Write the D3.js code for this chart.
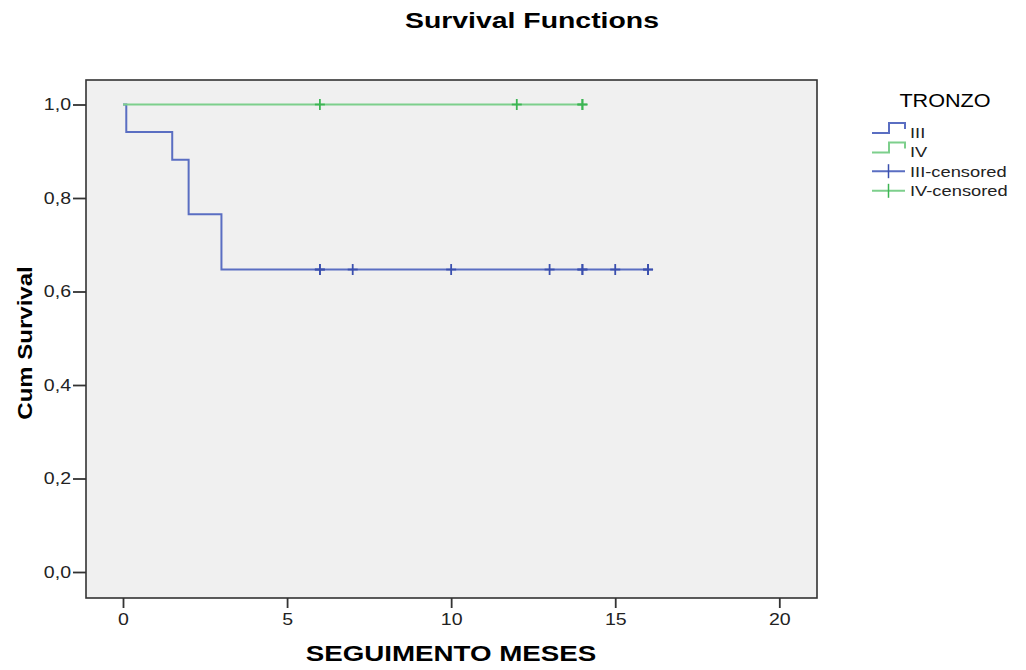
<!DOCTYPE html>
<html>
<head>
<meta charset="utf-8">
<script src="https://cdn.jsdelivr.net/npm/d3@7"></script>
<style>
  body { margin: 0; background: #fff; }
  svg { display: block; font-family: "Liberation Sans", Arial, sans-serif; }
</style>
</head>
<body>
<div id="chart"></div>
<script>
// survival data
var groups = ["III", "IV"];
var timesIII = [0, 0.1, 1.5, 2, 3, 16];
var survIII = [1, 0.941, 0.882, 0.765, 0.647, 0.647];
var timesIV = [0, 14];
var survIV = [1, 1];
var censIII = [6, 6, 7, 10, 13, 14, 14, 15, 16, 16];
var censIV = [6, 12, 14, 14];
var xTicks = [0, 5, 10, 15, 20];
var yTicks = [0, 0.2, 0.4, 0.6, 0.8, 1.0];

var width = 1026, height = 670;
var box = {left: 86, top: 80, right: 817, bottom: 598};

var lineCol = {III: "#5a6ec2", IV: "#7dcf8c"};
var markCol = {III: "#3a4fae", IV: "#3cb553"};

// the original text is drawn wider than our font, stretch it a bit
function stretch(sel, k) {
  sel.each(function() {
    var w = this.getComputedTextLength();
    d3.select(this).attr("textLength", w * k).attr("lengthAdjust", "spacingAndGlyphs");
  });
}

var svg = d3.select("#chart").append("svg")
  .attr("width", width)
  .attr("height", height);

var x = d3.scaleLinear().domain([0, 20]).range([123, 779.3]);
var y = d3.scaleLinear().domain([0, 1]).range([572, 104.5]);

// plot background
svg.append("rect")
  .attr("x", box.left).attr("y", box.top)
  .attr("width", box.right - box.left).attr("height", box.bottom - box.top)
  .attr("fill", "#f0f0f0")
  .attr("stroke", "#333").attr("stroke-width", 1.6);

// axes
var fmt = function(d) { return d3.format(".1f")(d).replace(".", ","); };
var gy = svg.append("g")
  .attr("transform", "translate(" + box.left + ",0)")
  .call(d3.axisLeft(y).tickValues(yTicks).tickFormat(fmt).tickSize(13).tickPadding(2));
var gx = svg.append("g")
  .attr("transform", "translate(0," + box.bottom + ")")
  .call(d3.axisBottom(x).tickValues(xTicks).tickSize(10).tickPadding(6));
[gx, gy].forEach(function(g) {
  g.select(".domain").remove();
  g.selectAll(".tick line").attr("stroke", "#333").attr("stroke-width", 1.8);
  g.selectAll(".tick text").attr("fill", "#222").style("font-size", "16px")
    .style("font-family", "'Liberation Sans', Arial, sans-serif")
    .call(stretch, 1.22);
});

// step curves
var line = d3.line()
  .x(function(d) { return x(d[0]); })
  .y(function(d) { return y(d[1]); })
  .curve(d3.curveStepAfter);

var series = [
  {key: "III", pts: d3.zip(timesIII, survIII), cens: censIII, surv: survIII},
  {key: "IV", pts: d3.zip(timesIV, survIV), cens: censIV, surv: survIV}
];

series.forEach(function(s) {
  svg.append("path")
    .datum(s.pts)
    .attr("d", line)
    .attr("fill", "none")
    .attr("stroke", lineCol[s.key])
    .attr("stroke-width", 2);
});

// censored marks
series.forEach(function(s) {
  var last = s.surv[s.surv.length - 1];
  var g = svg.append("g").attr("stroke", markCol[s.key]).attr("stroke-width", 1.8);
  s.cens.forEach(function(t) {
    var cx = x(t), cy = y(last);
    g.append("line").attr("x1", cx).attr("x2", cx).attr("y1", cy - 5.5).attr("y2", cy + 5.5);
    g.append("line").attr("x1", cx - 5).attr("x2", cx + 5).attr("y1", cy).attr("y2", cy);
  });
});

// titles
svg.append("text")
  .attr("x", 532).attr("y", 28)
  .attr("text-anchor", "middle")
  .style("font-size", "22px").style("font-weight", "bold")
  .text("Survival Functions")
  .call(stretch, 1.29);

svg.append("text")
  .attr("x", 451).attr("y", 661)
  .attr("text-anchor", "middle")
  .style("font-size", "22px").style("font-weight", "bold")
  .text("SEGUIMENTO MESES")
  .call(stretch, 1.26);

svg.append("text")
  .attr("transform", "translate(32,343) rotate(-90)")
  .attr("text-anchor", "middle")
  .style("font-size", "20px").style("font-weight", "bold")
  .text("Cum Survival")
  .call(stretch, 1.2);

// legend
var leg = svg.append("g");
leg.append("text")
  .attr("x", 945).attr("y", 106.5)
  .attr("text-anchor", "middle")
  .style("font-size", "18px")
  .text("TRONZO")
  .call(stretch, 1.2);

var items = [
  {label: "III", key: "III", type: "step"},
  {label: "IV", key: "IV", type: "step"},
  {label: "III-censored", key: "III", type: "cens"},
  {label: "IV-censored", key: "IV", type: "cens"}
];
items.forEach(function(it, i) {
  var cy = 132 + i * 19.6;
  var g = leg.append("g").attr("transform", "translate(0," + cy + ")");
  if (it.type === "step") {
    g.append("path")
      .attr("d", "M872,1H889V-9H905V-3")
      .attr("fill", "none")
      .attr("stroke", lineCol[it.key])
      .attr("stroke-width", 2);
  } else {
    g.append("line").attr("x1", 872).attr("x2", 905).attr("y1", 0).attr("y2", 0)
      .attr("stroke", lineCol[it.key]).attr("stroke-width", 2);
    g.append("line").attr("x1", 888.5).attr("x2", 888.5).attr("y1", -7).attr("y2", 7)
      .attr("stroke", markCol[it.key]).attr("stroke-width", 1.5);
  }
  g.append("text")
    .attr("x", 910).attr("y", 5.5)
    .style("font-size", "15px")
    .attr("fill", "#222")
    .text(it.label)
    .call(stretch, 1.22);
});
</script>
</body>
</html>
